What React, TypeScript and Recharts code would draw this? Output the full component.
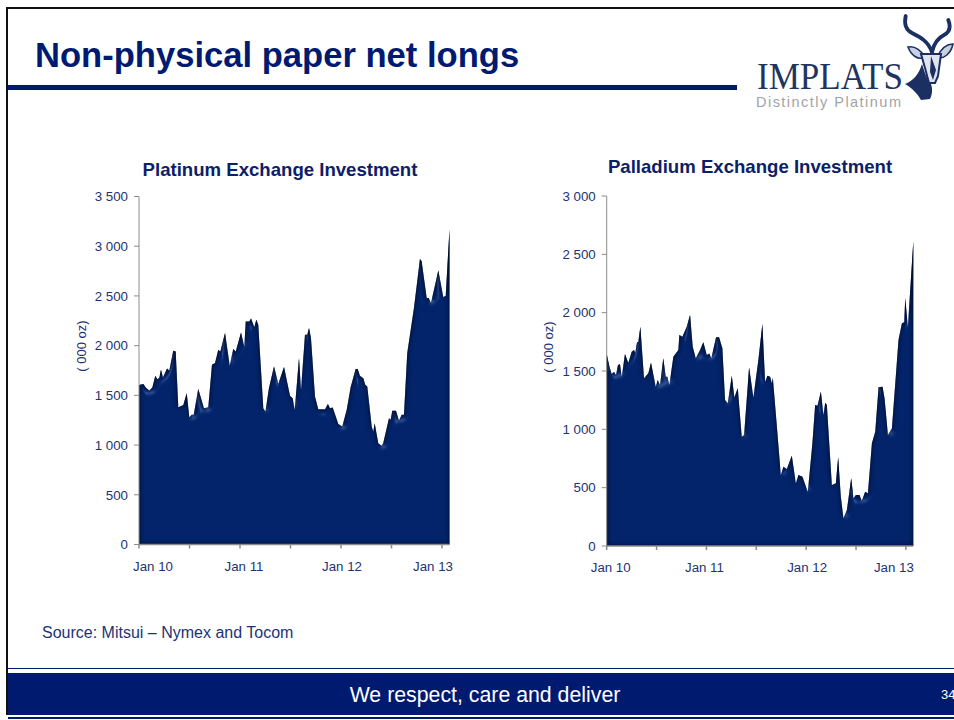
import { Area, AreaChart, XAxis, YAxis } from "recharts";

// months since Jan 2010, paired with the net long positions ('000 oz)
const platinumMonths = [
  0, 0.51, 0.83, 1.22, 1.58, 1.94, 2.17, 2.41, 2.61, 2.85, 3.33, 3.6, 4.07, 4.36, 4.67, 5.26, 5.67, 5.98,
  6.26, 6.5, 7.04, 7.37, 7.72, 8.23, 8.67, 9.03, 9.42, 9.66, 10.22, 10.78, 11.2, 11.49, 12.12, 12.51, 12.68,
  13.1, 13.31, 13.7, 13.94, 14.17, 14.77, 15.02, 15.44, 16.04, 16.55, 17.23, 17.94, 18.26, 18.5, 19.01, 19.25,
  19.72, 19.99, 20.2, 20.43, 20.91, 21.3, 22.1, 22.45, 22.69, 23.01, 23.68, 24.15, 24.68, 25.15, 25.74, 25.98,
  26.25, 26.65, 26.88, 27.12, 27.65, 27.83, 28.0, 28.43, 28.83, 29.02, 29.7, 29.9, 30.09, 30.53, 30.89, 31.21,
  31.48, 31.87, 32.67, 33.38, 33.58, 34.18, 34.42, 34.69, 35.56, 36.15, 36.44, 36.89,
];
const platinumValues = [
  1603, 1613, 1576, 1549, 1579, 1697, 1663, 1677, 1757, 1683, 1770, 1750, 1949, 1941, 1381, 1404, 1522, 1281,
  1304, 1304, 1563, 1472, 1371, 1381, 1808, 1825, 1959, 1941, 2127, 1800, 1966, 1941, 2133, 1992, 2244,
  2244, 2274, 2187, 2261, 2211, 1371, 1337, 1573, 1790, 1616, 1784, 1495, 1472, 1354, 1875, 1556,
  2110, 2110, 2177, 2076, 1488, 1361, 1361, 1412, 1371, 1378, 1213, 1186, 1354, 1583, 1764, 1764,
  1697, 1673, 1606, 1589, 1186, 1136, 1220, 1019, 992, 1022, 1271, 1254, 1344, 1344, 1247, 1304,
  1304, 1925, 2380, 2872, 2848, 2479, 2479, 2429, 2757, 2489, 2503, 3170,
];
const palladiumMonths = [
  0, 0.31, 0.6, 0.88, 1.12, 1.36, 1.6, 1.81, 2.2, 2.6, 3.01, 3.29, 3.44, 3.65, 3.8, 4.05, 4.49, 5.01, 5.33, 5.9,
  6.14, 6.42, 6.81, 7.1, 7.3, 7.54, 8.02, 8.62, 8.74, 9.1, 9.63, 10.03, 10.35, 10.72, 11.23, 11.63, 12.04, 12.35,
  12.59, 13.16, 13.52, 13.92, 14.24, 14.57, 15.05, 15.36, 15.77, 16.25, 16.53, 17.13, 17.65, 18.25, 18.73, 19.06,
  19.34, 19.66, 19.87, 19.99, 20.38, 20.95, 21.26, 21.67, 22.27, 22.76, 23.07, 23.55, 24.2, 24.75, 25.08, 25.36,
  25.77, 26.08, 26.29, 26.49, 27.09, 27.57, 27.85, 28.17, 28.49, 28.9, 29.42, 29.69, 29.98, 30.41, 30.7, 31.1,
  31.43, 31.91, 32.31, 32.71, 33.19, 33.43, 33.84, 34.32, 35.11, 35.52, 35.8, 35.92, 36.24, 36.89,
];
const palladiumValues = [
  1646, 1543, 1474, 1494, 1466, 1551, 1557, 1451, 1646, 1571, 1665, 1680, 1657, 1746, 1746, 1880, 1437, 1480, 1571, 1365,
  1423, 1380, 1609, 1451, 1451, 1380, 1622, 1680, 1808, 1794, 1880, 1980, 1708, 1609, 1680, 1746, 1637, 1651,
  1609, 1789, 1789, 1694, 1251, 1223, 1460, 1274, 1352, 937, 951, 1531, 1274, 1594, 1903, 1408,
  1460, 1451, 1394, 1443, 1108, 609, 680, 660, 774, 537, 609, 594, 465, 880, 1208, 1203,
  1322, 1123, 1228, 1208, 523, 537, 760, 423, 237, 309, 580, 409, 437, 437, 388, 465,
  452, 880, 980, 1360, 1366, 1266, 951, 1009, 1766, 1909, 1917, 2123, 1880, 2610,
];

const monthTicks = [0, 6, 12, 18, 24, 30, 36];
const yearLabels: Record<number, string> = { 0: "Jan 10", 12: "Jan 11", 24: "Jan 12", 36: "Jan 13" };
const platinumTicks = [0, 500, 1000, 1500, 2000, 2500, 3000, 3500];
const palladiumTicks = [0, 500, 1000, 1500, 2000, 2500, 3000];

const NAVY = "#001a70";
const LABEL = "#1c3375";
const AXIS = "#8c8c8c";
const SANS = "'Liberation Sans', Arial, sans-serif";

const groupThousands = (v: number) => String(v).replace(/\B(?=(\d{3})+$)/g, " ");

function toRows(months: number[], values: number[]) {
  return months.map((month, i) => ({ month, value: values[i] }));
}

function YearTick({ x, y, payload, shifts }: any) {
  const label = yearLabels[payload.value];
  if (!label) return null;
  return (
    <text x={x + shifts[payload.value]} y={y + 20} textAnchor="middle" fontSize={13.3} fontFamily={SANS} fill={LABEL}>
      {label}
    </text>
  );
}

interface PanelProps {
  id: string;
  left: number;
  top: number;
  axisWidth: number;
  plotWidth: number;
  plotHeight: number;
  plotTop: number;
  months: number[];
  values: number[];
  ticks: number[];
  shifts: Record<number, number>;
}

function ExchangePanel({ id, left, top, axisWidth, plotWidth, plotHeight, plotTop, months, values, ticks, shifts }: PanelProps) {
  const width = axisWidth + plotWidth + 20;
  return (
    <div style={{ position: "absolute", left, top }}>
      <AreaChart
        width={width}
        height={plotTop + plotHeight + 40}
        data={toRows(months, values)}
        margin={{ top: plotTop, right: 20, bottom: 0, left: 0 }}
      >
        <defs>
          {/* chiselled look: a dark inner edge plus a faint sheen where the outline dips */}
          <filter id={id} x="-3%" y="-3%" width="106%" height="106%" colorInterpolationFilters="sRGB">
            <feComponentTransfer in="SourceAlpha" result="inverse">
              <feFuncA type="table" tableValues="1 0" />
            </feComponentTransfer>
            <feGaussianBlur in="inverse" stdDeviation="2.6" result="soft" />
            <feFlood floodColor="#000616" floodOpacity="1" />
            <feComposite in2="soft" operator="in" />
            <feComposite in2="SourceAlpha" operator="in" result="edge" />
            <feGaussianBlur in="SourceAlpha" stdDeviation="4" result="bump" />
            <feSpecularLighting in="bump" surfaceScale="6" specularConstant="0.32" specularExponent="70" lightingColor="#8fb0ee" result="spec">
              <feDistantLight azimuth="250" elevation="40" />
            </feSpecularLighting>
            <feComposite in="spec" in2="SourceAlpha" operator="in" result="shine" />
            <feMerge>
              <feMergeNode in="SourceGraphic" />
              <feMergeNode in="shine" />
              <feMergeNode in="edge" />
            </feMerge>
          </filter>
        </defs>
        <XAxis
          dataKey="month"
          type="number"
          domain={[0, 36.89]}
          ticks={monthTicks}
          interval={0}
          height={40}
          stroke={AXIS}
          strokeWidth={1.5}
          tickSize={4}
          tick={<YearTick shifts={shifts} />}
        />
        <YAxis
          width={axisWidth}
          domain={[0, ticks[ticks.length - 1]]}
          ticks={ticks}
          interval={0}
          stroke={AXIS}
          tickSize={5}
          tickMargin={6}
          tick={{ fill: LABEL, fontSize: 13.3, fontFamily: SANS }}
          tickFormatter={groupThousands}
        />
        <Area
          dataKey="value"
          type="linear"
          fill="#03246b"
          fillOpacity={1}
          stroke="none"
          filter={`url(#${id})`}
          dot={false}
          activeDot={false}
          isAnimationActive={false}
        />
      </AreaChart>
    </div>
  );
}

function Caption({ left, top, width, size, bold, color, children, align }: any) {
  return (
    <div
      style={{
        position: "absolute",
        left,
        top,
        width,
        fontFamily: SANS,
        fontSize: size,
        fontWeight: bold ? 700 : 400,
        color,
        textAlign: align ?? "left",
        whiteSpace: "nowrap",
        lineHeight: 1,
      }}
    >
      {children}
    </div>
  );
}

function UnitLabel({ x, y }: { x: number; y: number }) {
  return (
    <div
      style={{
        position: "absolute",
        left: x - 40,
        top: y - 7,
        width: 80,
        textAlign: "center",
        transform: "rotate(-90deg)",
        fontFamily: SANS,
        fontSize: 13,
        lineHeight: "14px",
        color: LABEL,
      }}
    >
      ( 000 oz)
    </div>
  );
}

function Logo() {
  return (
    <svg width={954} height={120} style={{ position: "absolute", left: 0, top: 0 }}>
      <text x={757} y={89} fontFamily="'Liberation Serif', serif" fontSize={37} fill="#1f3560" textLength={146} lengthAdjust="spacingAndGlyphs">
        IMPLATS
      </text>
      <text x={756} y={107} fontFamily={SANS} fontSize={14.5} fill="#a3a3a3" textLength={145} lengthAdjust="spacing">
        Distinctly Platinum
      </text>
      <g fill="none" stroke="#1b2f62" strokeLinecap="round" strokeLinejoin="round">
        <path d="M905.7 16 C904 24 906 30 912 33 C920 37 928 41 932 52" strokeWidth={3.8} />
        <path d="M948.3 20 C951 27 950 32 944 35 C938 38 934 43 932 52" strokeWidth={3.8} />
      </g>
      <path d="M908 47 C914 46 920 49 925 57 C918 61 911 55 908 47 Z" fill="#c9d1e0" stroke="#1b2f62" strokeWidth={1.6} />
      <path d="M953 44 C947 44 941 49 937 57 C944 60 951 53 953 44 Z" fill="#c9d1e0" stroke="#1b2f62" strokeWidth={1.6} />
      <path d="M905 84 C913 81 919 74 922 64 C925 74 928 81 931 84 C933 90 932 95 930 99 L921 100 C917 93 912 88 905 84 Z" fill="#1b2f62" />
      <path d="M921 54 L941 54 L938 76 L935 83 L929 83 L925 68 Z" fill="#dfe4ee" stroke="#1b2f62" strokeWidth={2} />
      <path d="M931 56 L930 72 L933 80 L936 70 Z" fill="#1b2f62" />
    </svg>
  );
}

export default function App() {
  return (
    <div style={{ position: "absolute", left: 0, top: 0, width: 954, height: 720, overflow: "hidden", background: "#fff" }}>
      {/* slide frame and header rule */}
      <div style={{ position: "absolute", left: 6, top: 7, width: 948, height: 2, background: "#111" }} />
      <div style={{ position: "absolute", left: 6, top: 7, width: 2, height: 708, background: "#111" }} />
      <div style={{ position: "absolute", left: 8, top: 85, width: 729, height: 5, background: NAVY }} />

      <Caption left={35} top={38} size={34.6} bold color={NAVY}>
        Non-physical paper net longs
      </Caption>
      <Logo />

      <Caption left={80} top={161} width={400} size={18.6} bold color="#0b2068" align="center">
        Platinum Exchange Investment
      </Caption>
      <Caption left={550} top={158} width={400} size={18.6} bold color="#0b2068" align="center">
        Palladium Exchange Investment
      </Caption>

      <UnitLabel x={82} y={346} />
      <UnitLabel x={549} y={347} />

      <ExchangePanel
        id="platinumBevel"
        left={60}
        top={190}
        axisWidth={79}
        plotWidth={310.5}
        plotHeight={348}
        plotTop={6.5}
        months={platinumMonths}
        values={platinumValues}
        ticks={platinumTicks}
        shifts={{ 0: 14, 12: 4, 24: 1, 36: -9 }}
      />
      <ExchangePanel
        id="palladiumBevel"
        left={530}
        top={190}
        axisWidth={76.7}
        plotWidth={306.6}
        plotHeight={350}
        plotTop={6}
        months={palladiumMonths}
        values={palladiumValues}
        ticks={palladiumTicks}
        shifts={{ 0: 4, 12: -2, 24: 1, 36: -12 }}
      />

      <Caption left={42} top={625} size={16} color={LABEL}>
        Source: Mitsui – Nymex and Tocom
      </Caption>

      {/* footer band */}
      <div style={{ position: "absolute", left: 8, top: 668, width: 946, height: 1, background: NAVY }} />
      <div style={{ position: "absolute", left: 8, top: 673, width: 946, height: 42, background: NAVY }} />
      <div style={{ position: "absolute", left: 8, top: 717, width: 946, height: 1.5, background: NAVY }} />
      <Caption left={8} top={685} width={954} size={21.3} color="#fff" align="center">
        We respect, care and deliver
      </Caption>
      <Caption left={941} top={688} size={13} color="#fff">
        34
      </Caption>
    </div>
  );
}
